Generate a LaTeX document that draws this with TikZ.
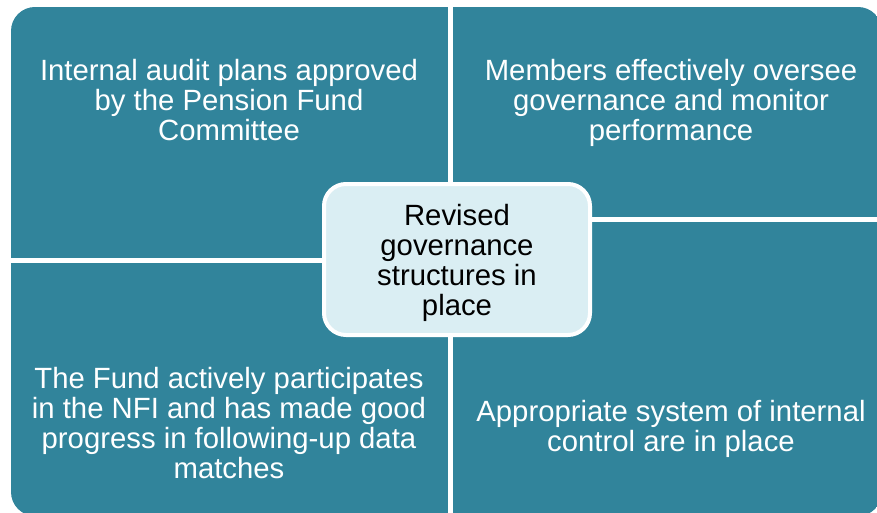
\documentclass[tikz,border=0pt]{standalone}
\usepackage{fontspec}
\setmainfont{Liberation Sans}
\usepackage{xcolor}
\usepackage{tikz}
\usetikzlibrary{positioning}
\definecolor{tealfill}{HTML}{31849B}
\definecolor{corefill}{HTML}{DAEEF3}

\begin{document}
\begin{tikzpicture}[
    x=1pt, y=-1pt,
    quad/.style={fill=tealfill},
    quadtext/.style={text=white, align=center, font=\fontsize{29.3}{30}\selectfont},
    core/.style={rectangle, rounded corners=22pt, draw=white, line width=4pt, fill=corefill,
                 minimum width=266pt, minimum height=151pt, align=center,
                 font=\fontsize{29.3}{30}\selectfont}
  ]
    \clip (0,0) rectangle (877,513);

    % four quadrants, outer corners rounded
    \begin{scope}
      \clip[rounded corners=24pt] (11,7) rectangle (882,516);
      \fill[quad] (11,7) rectangle (448,258);
      \fill[quad] (453,7) rectangle (882,217);
      \fill[quad] (11,263) rectangle (448,516);
      \fill[quad] (453,222) rectangle (882,516);
    \end{scope}

    \node[quadtext] (AUDIT) at (229,100)
      {Internal audit plans approved\\by the Pension Fund\\Committee};
    \node[quadtext] (MEMB) at (671,103)
      {Members effectively oversee\\governance and monitor\\performance};
    \node[quadtext] (NFI) at (229,423)
      {The Fund actively participates\\in the NFI and has made good\\progress in following-up data\\matches};
    \node[quadtext] (CTRL) at (671,429)
      {Appropriate system of internal\\control are in place};

    \node[core] (GOV) at (457,259.5) {};
    \node[align=center, font=\fontsize{29.3}{30}\selectfont] (GOVTXT) at (457,262.5)
      {Revised\\governance\\structures in\\place};
  \end{tikzpicture}
\end{document}
